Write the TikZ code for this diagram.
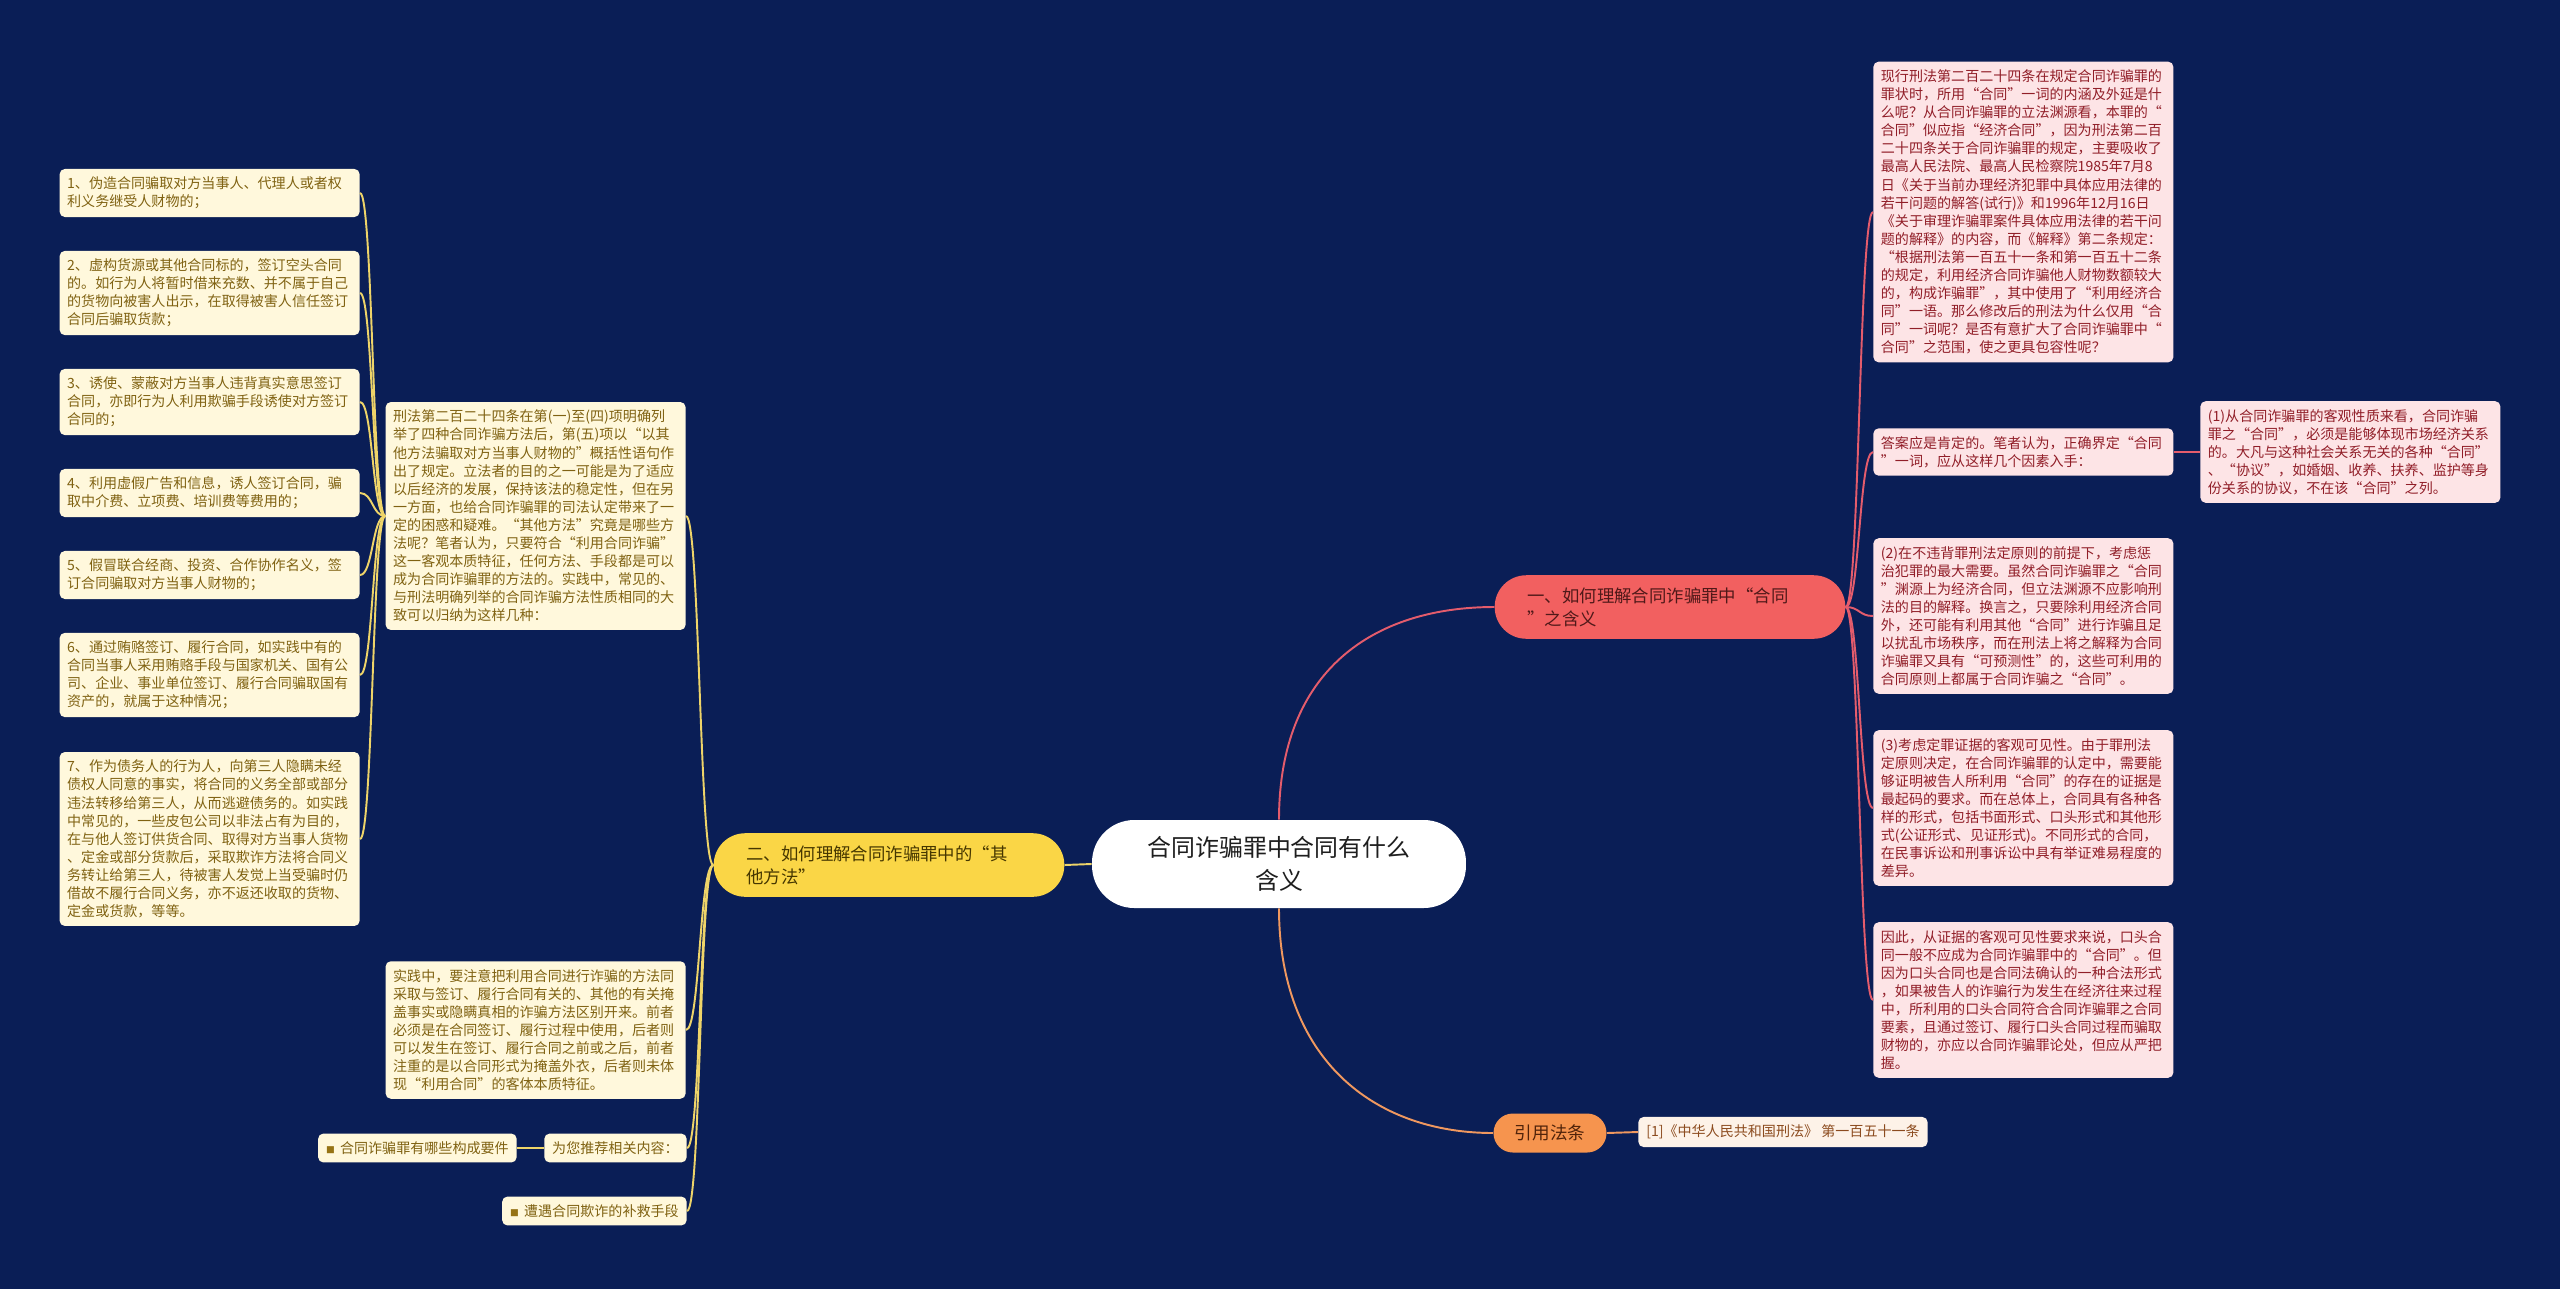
\documentclass[tikz,border=0pt]{standalone}
\usepackage{fontspec}
\setmainfont{Noto Sans CJK SC}

\newcommand{\bulletsq}{{\fontsize{5}{5}\selectfont\color[RGB]{150,115,20}■}\hspace{3pt}}

\begin{document}
\begin{tikzpicture}[x=0.02cm, y=-0.02cm,
    rootbox/.style={fill=white, text={rgb,255:red,30;green,30;blue,30}, rounded corners=24pt, minimum width=7.48cm, minimum height=1.76cm, align=center, font=\fontsize{13.6}{18.7}\selectfont},
    topicbox/.style={rounded corners=18pt, text width=5.7cm, align=left, inner xsep=18.7pt, inner ysep=7pt, font=\fontsize{9.9}{13}\selectfont},
    notebox/.style={rounded corners=3pt, text width=5.7cm, align=left, inner xsep=4.3pt, inner ysep=4.5pt, font=\fontsize{8}{10.3}\selectfont},
    pinknote/.style={notebox, anchor=west, fill={rgb,255:red,253;green,228;blue,230}, text={rgb,255:red,145;green,30;blue,40}},
    goldnote/.style={notebox, anchor=east, fill={rgb,255:red,255;green,248;blue,220}, text={rgb,255:red,128;green,98;blue,18}},
    tagbox/.style={rounded corners=3pt, inner xsep=4.5pt, inner ysep=4.5pt, anchor=east, fill={rgb,255:red,255;green,248;blue,220}, text={rgb,255:red,128;green,98;blue,18}, font=\fontsize{8}{10.3}\selectfont},
    lnpink/.style={draw={rgb,255:red,228;green,92;blue,108}, line width=1.1pt},
    lngold/.style={draw={rgb,255:red,238;green,212;blue,105}, line width=1.1pt},
    lnorange/.style={draw={rgb,255:red,240;green,152;blue,95}, line width=1.1pt}
]

    % background and page frame
    \fill[fill={rgb,255:red,10;green,30;blue,86}] (0,0) rectangle (2560,1289);
    \useasboundingbox (0,0) rectangle (2560,1289);

    % centre and the three topics
    \node[rootbox] (ndRoot) at (1279,864) {合同诈骗罪中合同有什么\\含义};
    \node[topicbox, fill={rgb,255:red,242;green,96;blue,96}, text={rgb,255:red,80;green,25;blue,25}] (ndTopic1) at (1670,607) {一、如何理解合同诈骗罪中“合同\\”之含义};
    \node[topicbox, fill={rgb,255:red,250;green,214;blue,70}, text={rgb,255:red,70;green,55;blue,0}] (ndTopic2) at (889,865) {二、如何理解合同诈骗罪中的“其\\他方法”};
    \node[fill={rgb,255:red,246;green,148;blue,78}, text={rgb,255:red,80;green,35;blue,10}, rounded corners=11pt, minimum width=2.26cm, minimum height=0.78cm, font=\fontsize{10}{13}\selectfont] (ndTopic3) at (1550,1133) {引用法条};

    \draw[lnpink] (ndRoot.north) .. controls +(0,-150) and +(-120,0) .. (ndTopic1.west);
    \draw[lngold] (ndRoot.west) -- (ndTopic2.east);
    \draw[lnorange] (ndRoot.south) .. controls +(0,150) and +(-120,0) .. (ndTopic3.west);

    % topic 1
    \node[pinknote] (ndNote1) at (1873,212) {现行刑法第二百二十四条在规定合同诈骗罪的\\罪状时，所用“合同”一词的内涵及外延是什\\么呢？从合同诈骗罪的立法渊源看，本罪的“\\合同”似应指“经济合同”，因为刑法第二百\\二十四条关于合同诈骗罪的规定，主要吸收了\\最高人民法院、最高人民检察院1985年7月8\\日《关于当前办理经济犯罪中具体应用法律的\\若干问题的解答(试行)》和1996年12月16日\\《关于审理诈骗罪案件具体应用法律的若干问\\题的解释》的内容，而《解释》第二条规定：\\“根据刑法第一百五十一条和第一百五十二条\\的规定，利用经济合同诈骗他人财物数额较大\\的，构成诈骗罪”，其中使用了“利用经济合\\同”一语。那么修改后的刑法为什么仅用“合\\同”一词呢？是否有意扩大了合同诈骗罪中“\\合同”之范围，使之更具包容性呢？};
    \node[pinknote] (ndNote2) at (1873,452) {答案应是肯定的。笔者认为，正确界定“合同\\”一词，应从这样几个因素入手：};
    \node[pinknote] (ndNote2a) at (2200,452) {(1)从合同诈骗罪的客观性质来看，合同诈骗\\罪之“合同”，必须是能够体现市场经济关系\\的。大凡与这种社会关系无关的各种“合同”\\、“协议”，如婚姻、收养、扶养、监护等身\\份关系的协议，不在该“合同”之列。};
    \node[pinknote] (ndNote3) at (1873,616) {(2)在不违背罪刑法定原则的前提下，考虑惩\\治犯罪的最大需要。虽然合同诈骗罪之“合同\\”渊源上为经济合同，但立法渊源不应影响刑\\法的目的解释。换言之，只要除利用经济合同\\外，还可能有利用其他“合同”进行诈骗且足\\以扰乱市场秩序，而在刑法上将之解释为合同\\诈骗罪又具有“可预测性”的，这些可利用的\\合同原则上都属于合同诈骗之“合同”。};
    \node[pinknote] (ndNote4) at (1873,808) {(3)考虑定罪证据的客观可见性。由于罪刑法\\定原则决定，在合同诈骗罪的认定中，需要能\\够证明被告人所利用“合同”的存在的证据是\\最起码的要求。而在总体上，合同具有各种各\\样的形式，包括书面形式、口头形式和其他形\\式(公证形式、见证形式)。不同形式的合同，\\在民事诉讼和刑事诉讼中具有举证难易程度的\\差异。};
    \node[pinknote] (ndNote5) at (1873,1000) {因此，从证据的客观可见性要求来说，口头合\\同一般不应成为合同诈骗罪中的“合同”。但\\因为口头合同也是合同法确认的一种合法形式\\，如果被告人的诈骗行为发生在经济往来过程\\中，所利用的口头合同符合合同诈骗罪之合同\\要素，且通过签订、履行口头合同过程而骗取\\财物的，亦应以合同诈骗罪论处，但应从严把\\握。};

    \foreach \nd in {ndNote1,ndNote2,ndNote3,ndNote4,ndNote5}
        \draw[lnpink] (ndTopic1.east) .. controls +(14,0) and +(-14,0) .. (\nd.west);
    \draw[lnpink] (ndNote2.east) -- (ndNote2a.west);

    % topic 2
    \node[goldnote] (ndDesc) at (686,516) {刑法第二百二十四条在第(一)至(四)项明确列\\举了四种合同诈骗方法后，第(五)项以“以其\\他方法骗取对方当事人财物的”概括性语句作\\出了规定。立法者的目的之一可能是为了适应\\以后经济的发展，保持该法的稳定性，但在另\\一方面，也给合同诈骗罪的司法认定带来了一\\定的困惑和疑难。“其他方法”究竟是哪些方\\法呢？笔者认为，只要符合“利用合同诈骗”\\这一客观本质特征，任何方法、手段都是可以\\成为合同诈骗罪的方法的。实践中，常见的、\\与刑法明确列举的合同诈骗方法性质相同的大\\致可以归纳为这样几种：};
    \node[goldnote] (ndItem1) at (360,193) {1、伪造合同骗取对方当事人、代理人或者权\\利义务继受人财物的；};
    \node[goldnote] (ndItem2) at (360,293) {2、虚构货源或其他合同标的，签订空头合同\\的。如行为人将暂时借来充数、并不属于自己\\的货物向被害人出示，在取得被害人信任签订\\合同后骗取货款；};
    \node[goldnote] (ndItem3) at (360,402) {3、诱使、蒙蔽对方当事人违背真实意思签订\\合同，亦即行为人利用欺骗手段诱使对方签订\\合同的；};
    \node[goldnote] (ndItem4) at (360,493) {4、利用虚假广告和信息，诱人签订合同，骗\\取中介费、立项费、培训费等费用的；};
    \node[goldnote] (ndItem5) at (360,575) {5、假冒联合经商、投资、合作协作名义，签\\订合同骗取对方当事人财物的；};
    \node[goldnote] (ndItem6) at (360,675) {6、通过贿赂签订、履行合同，如实践中有的\\合同当事人采用贿赂手段与国家机关、国有公\\司、企业、事业单位签订、履行合同骗取国有\\资产的，就属于这种情况；};
    \node[goldnote] (ndItem7) at (360,839) {7、作为债务人的行为人，向第三人隐瞒未经\\债权人同意的事实，将合同的义务全部或部分\\违法转移给第三人，从而逃避债务的。如实践\\中常见的，一些皮包公司以非法占有为目的，\\在与他人签订供货合同、取得对方当事人货物\\、定金或部分货款后，采取欺诈方法将合同义\\务转让给第三人，待被害人发觉上当受骗时仍\\借故不履行合同义务，亦不返还收取的货物、\\定金或货款，等等。};
    \node[goldnote] (ndPractice) at (686,1030) {实践中，要注意把利用合同进行诈骗的方法同\\采取与签订、履行合同有关的、其他的有关掩\\盖事实或隐瞒真相的诈骗方法区别开来。前者\\必须是在合同签订、履行过程中使用，后者则\\可以发生在签订、履行合同之前或之后，前者\\注重的是以合同形式为掩盖外衣，后者则未体\\现“利用合同”的客体本质特征。};
    \node[tagbox] (ndRecommend) at (687,1148) {为您推荐相关内容：};
    \node[tagbox] (ndRelA) at (517,1148) {\bulletsq 合同诈骗罪有哪些构成要件};
    \node[tagbox] (ndRelB) at (687,1211) {\bulletsq 遭遇合同欺诈的补救手段};

    \foreach \nd in {ndDesc,ndPractice,ndRecommend,ndRelB}
        \draw[lngold] (ndTopic2.west) .. controls +(-14,0) and +(14,0) .. (\nd.east);
    \foreach \nd in {ndItem1,ndItem2,ndItem3,ndItem4,ndItem5,ndItem6,ndItem7}
        \draw[lngold] (ndDesc.west) .. controls +(-13,0) and +(13,0) .. (\nd.east);
    \draw[lngold] (ndRecommend.west) -- (ndRelA.east);

    % topic 3
    \node[anchor=west, rounded corners=3pt, inner xsep=4.5pt, inner ysep=4.5pt, fill={rgb,255:red,253;green,242;blue,232}, text={rgb,255:red,140;green,75;blue,30}, font=\fontsize{8}{10.3}\selectfont] (ndCite) at (1638,1132) {[1]《中华人民共和国刑法》 第一百五十一条};
    \draw[lnorange] (ndTopic3.east) -- (ndCite.west);
\end{tikzpicture}
\end{document}
